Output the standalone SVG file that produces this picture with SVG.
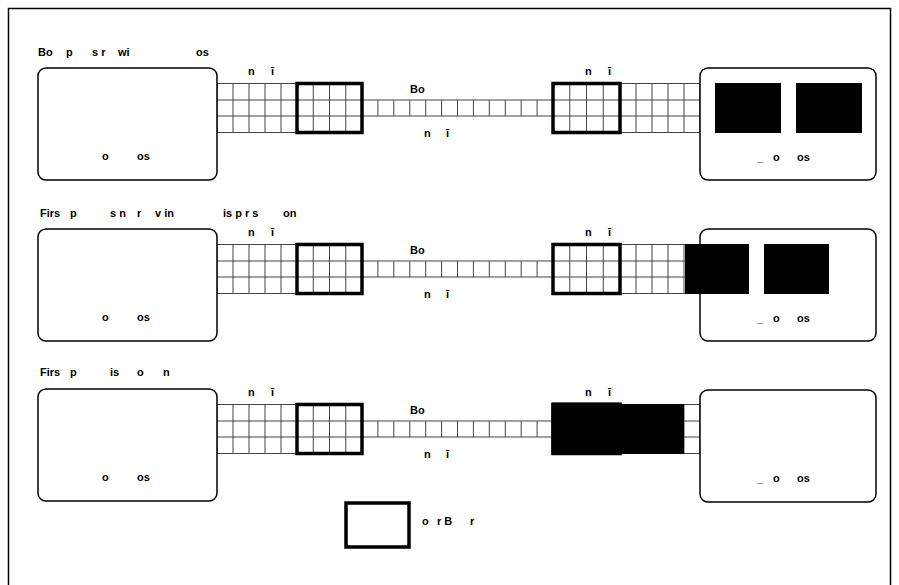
<svg xmlns="http://www.w3.org/2000/svg" width="899" height="585" viewBox="0 0 899 585">
<style>
.t{font-family:"Liberation Sans",Arial,sans-serif;font-weight:bold;font-size:11px;fill:#000}
.box{fill:#fff;stroke:#000;stroke-width:1.5}
.g{fill:none;stroke:#444;stroke-width:1}
.bold{fill:none;stroke:#000;stroke-width:3.5}
.blk{fill:#000}
</style>
<defs>
<g id="pipes">
<rect x="217" y="83.5" width="80" height="49" fill="#fff" class="g"/>
<path class="g" d="M233 83.5V132.5M249 83.5V132.5M265 83.5V132.5M281 83.5V132.5M217 100H297M217 116H297"/>
<path class="g" d="M297 100H362M297 116H362M313.25 83.5V132.5M329.5 83.5V132.5M345.75 83.5V132.5"/>
<rect x="362" y="100" width="191" height="16" fill="#fff" class="g"/>
<path class="g" d="M377.9 100V116M393.8 100V116M409.8 100V116M425.7 100V116M441.6 100V116M457.5 100V116M473.4 100V116M489.3 100V116M505.3 100V116M521.2 100V116M537.1 100V116"/>
<path class="g" d="M553 100H620M553 116H620M569.75 83.5V132.5M586.5 83.5V132.5M603.25 83.5V132.5"/>
<rect x="620" y="83.5" width="80" height="49" fill="#fff" class="g"/>
<path class="g" d="M636 83.5V132.5M652 83.5V132.5M668 83.5V132.5M684 83.5V132.5M620 100H700M620 116H700"/>
<rect x="297" y="83.5" width="65" height="49" class="bold"/>
<rect x="553" y="83.5" width="67" height="49" class="bold"/>
</g>
<g id="labels">
<text class="t" y="75"><tspan x="248">n</tspan><tspan x="271">ī</tspan></text>
<text class="t" y="75"><tspan x="585">n</tspan><tspan x="608">ī</tspan></text>
<text class="t" x="410" y="93">Bo</text>
<text class="t" y="137"><tspan x="424">n</tspan><tspan x="446">ī</tspan></text>
<text class="t" y="160"><tspan x="102">o</tspan><tspan x="137">os</tspan></text>
<text class="t" y="161"><tspan x="757">_</tspan><tspan x="773">o</tspan><tspan x="797">os</tspan></text>
</g>
</defs>
<path d="M8.5 590V8.5H890.5V590" fill="none" stroke="#000" stroke-width="1.5"/>

<g id="connectors">
<use href="#pipes"/>
<use href="#pipes" transform="translate(0,161)"/>
<use href="#pipes" transform="translate(0,321)"/>
</g>

<g id="row1">
<text class="t" y="56"><tspan x="38">Bo</tspan><tspan x="66">p</tspan><tspan x="92">s r</tspan><tspan x="118">wi</tspan><tspan x="196">os</tspan></text>
<rect id="r1-left" class="box" x="38" y="68" width="179" height="112" rx="8"/>
<rect id="r1-right" class="box" x="700" y="68" width="176" height="112" rx="8"/>
<rect class="blk" x="715" y="83" width="66" height="50"/>
<rect class="blk" x="796" y="83" width="66" height="50"/>
</g>

<g id="row2">
<text class="t" y="217"><tspan x="40">Firs</tspan><tspan x="70">p</tspan><tspan x="110">s n</tspan><tspan x="137">r</tspan><tspan x="155">v in</tspan><tspan x="223">is p r s</tspan><tspan x="283">on</tspan></text>
<rect id="r2-left" class="box" x="38" y="229" width="179" height="112" rx="8"/>
<rect id="r2-right" class="box" x="700" y="229" width="176" height="112" rx="8"/>
<rect class="blk" x="685" y="244" width="64" height="50"/>
<rect class="blk" x="764" y="244" width="65" height="50"/>
</g>

<g id="row3">
<text class="t" y="376"><tspan x="40">Firs</tspan><tspan x="70">p</tspan><tspan x="110">is</tspan><tspan x="137">o</tspan><tspan x="163">n</tspan></text>
<rect id="r3-left" class="box" x="38" y="389" width="179" height="112" rx="8"/>
<rect id="r3-right" class="box" x="700" y="390" width="176" height="112" rx="8"/>
<rect class="blk" x="551.5" y="402.5" width="70" height="52"/>
<rect class="blk" x="620" y="404" width="64" height="50"/>
</g>

<g id="row-labels">
<use href="#labels"/>
<use href="#labels" transform="translate(0,161)"/>
<use href="#labels" transform="translate(0,321)"/>
</g>

<g id="legend">
<rect x="346" y="503" width="63" height="44" fill="#fff" stroke="#000" stroke-width="3.5"/>
<text class="t" y="525"><tspan x="422">o</tspan><tspan x="437">r B</tspan><tspan x="470">r</tspan></text>
</g>
</svg>
